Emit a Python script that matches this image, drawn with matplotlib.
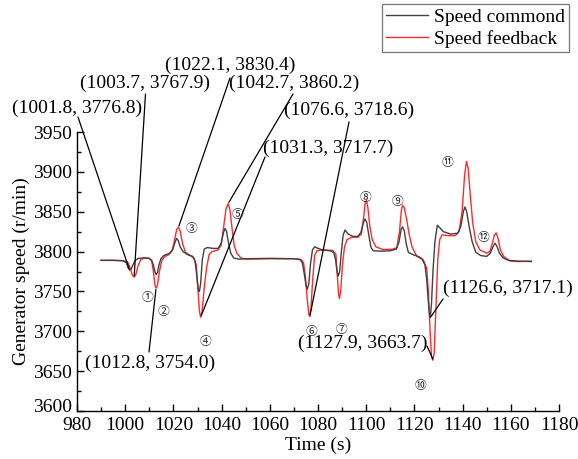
import matplotlib
matplotlib.use("Agg")
import matplotlib.pyplot as plt
from matplotlib.transforms import ScaledTranslation

# speed command (black)
cmd_t = [990, 995, 999, 1000.5, 1001.2, 1001.8, 1002.5, 1003.3, 1004.2, 1005.5, 1008, 1010,
         1011, 1011.8, 1012.4, 1012.9, 1013.4, 1014, 1014.8, 1016, 1018.5, 1019.8, 1020.6,
         1021.3, 1022, 1022.8, 1024, 1026, 1028, 1029, 1029.7, 1030.3, 1030.8, 1031.3, 1032,
         1032.8, 1034, 1036.5, 1038.5, 1039.8, 1040.8, 1041.4, 1042, 1042.8, 1043.8, 1045,
         1047, 1050, 1060, 1070, 1072.5, 1073.5, 1074.3, 1075, 1075.6, 1076.2, 1076.9, 1077.7,
         1078.6, 1080, 1082, 1085, 1086.5, 1087.3, 1087.9, 1088.4, 1089, 1089.7, 1090.4,
         1091.2, 1092.5, 1094.5, 1096.5, 1097.8, 1098.8, 1099.5, 1100.2, 1101, 1102, 1103,
         1106, 1110, 1112.5, 1113.6, 1114.5, 1115.1, 1115.8, 1116.6, 1117.5, 1119.5, 1121.5,
         1123, 1124.4, 1125.1, 1125.7, 1126.2, 1126.6, 1127.1, 1127.7, 1128.5, 1129.5, 1130.5,
         1132, 1135, 1138, 1139.3, 1140.3, 1141, 1141.7, 1142.8, 1144, 1145.5, 1147.5, 1150,
         1151.5, 1152.6, 1153.4, 1154.2, 1155.3, 1156.8, 1159, 1163, 1168.5]
cmd_v = [3789, 3789, 3788.5, 3786, 3780, 3776.8, 3778, 3784, 3789, 3791.5, 3792, 3791.5,
         3789, 3782, 3774, 3771, 3774, 3783, 3791, 3795, 3798, 3803, 3811,
         3816.5, 3814, 3806, 3800, 3796, 3794, 3788, 3770, 3752, 3750, 3760, 3790,
         3803, 3805, 3804, 3804, 3810, 3824, 3829, 3826, 3812, 3798, 3792,
         3790.5, 3791, 3791.5, 3791, 3790, 3786, 3772, 3758, 3753, 3760, 3785, 3802,
         3806, 3804, 3802, 3801, 3799, 3790, 3775, 3769.5, 3775, 3800, 3820,
         3827, 3822, 3819, 3819, 3824, 3836, 3841, 3837, 3822, 3805, 3801,
         3800.5, 3801, 3803, 3812, 3828, 3831, 3826, 3810, 3799, 3796, 3794,
         3791.5, 3783, 3765, 3740, 3722, 3717.1, 3735, 3775, 3812, 3833, 3830,
         3825, 3822, 3823, 3832, 3850, 3856, 3850, 3830, 3812, 3799, 3795, 3794,
         3798, 3806, 3810.5, 3807, 3798, 3792, 3789, 3788, 3787.5]

# speed feedback (red)
fb_t = [990, 995, 999.5, 1001, 1002, 1003, 1003.7, 1004.4, 1005.3, 1006.5, 1008, 1010,
        1011, 1011.7, 1012.3, 1012.8, 1013.4, 1014.2, 1015.2, 1016.5, 1018, 1019.5, 1020.5,
        1021.4, 1022.1, 1022.8, 1023.8, 1025, 1027, 1028.5, 1029.5, 1030.2, 1030.8, 1031.3,
        1031.9, 1032.8, 1033.8, 1034.8, 1036, 1038.5, 1039.8, 1040.8, 1041.8, 1042.7, 1043.5,
        1044.3, 1045.2, 1046.3, 1048, 1050, 1060, 1070, 1073, 1074, 1074.8, 1075.6, 1076.2,
        1076.6, 1077.1, 1077.8, 1078.6, 1079.5, 1082, 1086, 1087.4, 1088, 1088.5, 1088.9,
        1089.4, 1090.2, 1091, 1092, 1094, 1096.5, 1098, 1099, 1099.6, 1100.1, 1100.7, 1101.5,
        1102.5, 1104, 1107, 1111, 1112.7, 1113.8, 1114.6, 1115.1, 1115.8, 1116.8, 1117.8,
        1119, 1121, 1123.7, 1125.1, 1125.8, 1126.5, 1127.1, 1127.6, 1128.2, 1129, 1129.7,
        1130.5, 1131.5, 1134, 1137, 1138.5, 1139.8, 1140.8, 1141.6, 1142.3, 1143.2, 1144.2,
        1145.5, 1147.2, 1150, 1151.3, 1152.3, 1153.2, 1153.9, 1154.6, 1155.6, 1157, 1159.7,
        1163, 1168.5]
fb_v = [3789, 3789, 3788.5, 3787, 3780, 3770, 3767.9, 3771, 3782, 3790, 3792, 3791.5,
        3788, 3775, 3758, 3754.0, 3758, 3775, 3789, 3794, 3796, 3801, 3815,
        3828, 3830.4, 3826, 3810, 3799, 3795, 3792, 3783, 3752, 3725, 3717.7,
        3725, 3755, 3780, 3796, 3800, 3802, 3808, 3830, 3853, 3860.2, 3852,
        3830, 3808, 3798, 3792, 3790.5, 3791, 3791, 3790, 3786, 3768, 3738, 3721,
        3718.6, 3730, 3765, 3795, 3801, 3802, 3801.5, 3797, 3770, 3747, 3741,
        3750, 3785, 3806, 3815, 3818, 3818, 3822, 3845, 3862, 3864, 3855, 3832,
        3815, 3806, 3802.5, 3803, 3805, 3825, 3852, 3858, 3855, 3840, 3822,
        3806, 3794, 3789.5, 3779, 3750, 3700, 3668, 3663.7, 3672, 3735, 3790,
        3815, 3821, 3820, 3820, 3825, 3850, 3895, 3913, 3905, 3870, 3836,
        3812, 3802, 3798, 3800, 3810, 3821, 3823.5, 3818, 3803, 3794, 3788,
        3787.5, 3788]

# annotated points (time, speed)
ann_t = [1001.8, 1003.7, 1022.1, 1042.7, 1031.3, 1076.6, 1012.8, 1127.9, 1126.6]
ann_v = [3776.8, 3767.9, 3830.4, 3860.2, 3717.7, 3718.6, 3754.0, 3663.7, 3717.1]
# label centre and line start, in pixels from the top-left of the figure
ann_text_px = [(77, 108), (145, 83), (230, 65), (294, 83), (328, 148),
               (349, 110), (150, 363), (363, 343), (508, 288)]
ann_line_px = [(78, 117), (145.5, 94), (230, 78), (293, 94), (265, 157),
               (349, 122), (149, 352), (427, 346), (443, 299)]

marks = ["①", "②", "③", "④", "⑤", "⑥", "⑦", "⑧", "⑨", "⑩", "⑪", "⑫"]
marks_px = [(147, 297), (163, 312), (192, 229), (206, 342), (237, 215), (311, 331),
            (342, 329), (365, 198), (398, 202), (421, 385), (448, 162), (483, 238)]

W, H = 578, 459
plt.rcParams["font.family"] = ["Liberation Serif", "DejaVu Serif"]
plt.rcParams["font.size"] = 14

fig = plt.figure(figsize=(W / 100, H / 100), dpi=100)
ax = fig.add_axes([77 / W, 48 / H, 482 / W, 279 / H])

ax.plot(cmd_t, cmd_v, color="#404040", lw=1.0, label="Speed commond", zorder=3)
ax.plot(fb_t, fb_v, color="#ff2a2a", lw=1.0, label="Speed feedback", zorder=2)

ax.set_xlim(980, 1180)
ax.set_ylim(3600, 3950)
ax.set_xticks(range(980, 1181, 20))
ax.set_xticks(range(990, 1180, 20), minor=True)
ax.set_yticks(range(3600, 3951, 50))
ax.set_yticks(range(3625, 3950, 50), minor=True)
ax.tick_params(which="both", direction="in", labelsize=14, width=1)
ax.tick_params(which="major", length=5)
ax.tick_params(which="minor", length=3)
ax.tick_params(axis="x", pad=4)
for side in ("top", "right"):
    ax.spines[side].set_visible(False)
for side in ("left", "bottom"):
    ax.spines[side].set_linewidth(1.0)

# lift the 3600 label a little, as in the original
fig.canvas.draw()
lab0 = ax.get_yticklabels()[0]
lab0.set_transform(lab0.get_transform() + ScaledTranslation(0, 4 / 72, fig.dpi_scale_trans))

ax.set_xlabel("Time (s)", fontsize=14, labelpad=2)
ax.set_ylabel("Generator speed (r/min)", fontsize=14, labelpad=2)

for t, v, (tx, ty), (lx, ly) in zip(ann_t, ann_v, ann_text_px, ann_line_px):
    fig.text(tx / W, 1 - ty / H, f"({t}, {v})", ha="center", va="center", fontsize=14)
    ax.annotate("", xy=(t, v), xycoords="data",
                xytext=(lx / W, 1 - ly / H), textcoords="figure fraction",
                arrowprops=dict(arrowstyle="-", color="black", lw=0.9,
                                shrinkA=0, shrinkB=1),
                annotation_clip=False)

for m, (mx, my) in zip(marks, marks_px):
    fig.text(mx / W, 1 - my / H, m, ha="center", va="center", fontsize=8.5,
             family=["Noto Sans CJK SC", "DejaVu Sans"], color="#222222")

leg = fig.legend(loc="upper right", bbox_to_anchor=(569 / W, 1 - 4 / H),
                 fontsize=14, frameon=True, fancybox=False, borderpad=0.2,
                 labelspacing=0.25, handlelength=2.2, handletextpad=0.3,
                 borderaxespad=0)
leg.get_frame().set_edgecolor("#555555")
leg.get_frame().set_linewidth(0.9)

fig.savefig("out.png", dpi=100)
